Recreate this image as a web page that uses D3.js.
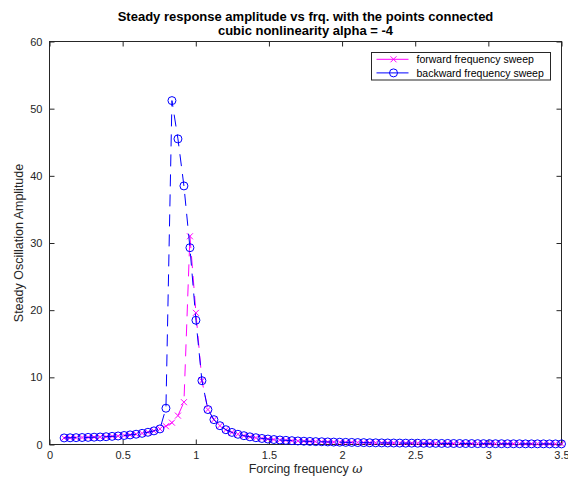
<!DOCTYPE html>
<html>
<head>
<meta charset="utf-8">
<script src="https://cdn.jsdelivr.net/npm/d3@7"></script>
<style>
  html, body { margin: 0; padding: 0; background: #fff; }
  svg { display: block; font-family: "Liberation Sans", Arial, Helvetica, sans-serif; }
</style>
</head>
<body>
<svg id="chart" width="568" height="477"></svg>
<script>
// Forcing frequencies (rad/s) of the sweep grid
const omega = [
  0.100, 0.141, 0.182, 0.223, 0.264, 0.305, 0.346, 0.387, 0.428, 0.469,
  0.510, 0.551, 0.592, 0.633, 0.673, 0.714, 0.755, 0.796, 0.837, 0.878,
  0.919, 0.960, 1.001, 1.042, 1.083, 1.124, 1.165, 1.206, 1.247, 1.288,
  1.329, 1.370, 1.411, 1.452, 1.493, 1.534, 1.575, 1.616, 1.657, 1.698,
  1.739, 1.780, 1.820, 1.861, 1.902, 1.943, 1.984, 2.025, 2.066, 2.107,
  2.148, 2.189, 2.230, 2.271, 2.312, 2.353, 2.394, 2.435, 2.476, 2.517,
  2.558, 2.599, 2.640, 2.681, 2.722, 2.763, 2.804, 2.845, 2.886, 2.927,
  2.967, 3.008, 3.049, 3.090, 3.131, 3.172, 3.213, 3.254, 3.295, 3.336,
  3.377, 3.418, 3.459, 3.500
];

// Steady amplitude, increasing-frequency sweep
const forwardAmp = [
  0.98, 1.00, 1.02, 1.04, 1.06, 1.09, 1.12, 1.16, 1.21, 1.27,
  1.34, 1.43, 1.53, 1.66, 1.82, 2.03, 2.32, 2.72, 3.25, 4.30,
  6.30, 31.0, 19.6, 9.5, 5.2, 3.7, 2.8, 2.2, 1.80, 1.52,
  1.31, 1.14, 1.01, 0.90, 0.81, 0.74, 0.67, 0.62, 0.57, 0.53,
  0.49, 0.46, 0.43, 0.41, 0.38, 0.36, 0.34, 0.32, 0.31, 0.29,
  0.28, 0.26, 0.25, 0.24, 0.23, 0.22, 0.21, 0.20, 0.20, 0.19,
  0.18, 0.17, 0.17, 0.16, 0.16, 0.15, 0.15, 0.14, 0.14, 0.13,
  0.13, 0.12, 0.12, 0.12, 0.11, 0.11, 0.11, 0.10, 0.10, 0.10,
  0.10, 0.09, 0.09, 0.09
];

// Steady amplitude, decreasing-frequency sweep
const backwardAmp = [
  0.98, 1.00, 1.02, 1.04, 1.06, 1.09, 1.12, 1.16, 1.21, 1.27,
  1.34, 1.43, 1.53, 1.66, 1.82, 2.03, 2.32, 5.40, 51.2, 45.5,
  38.5, 29.3, 18.5, 9.5, 5.2, 3.7, 2.8, 2.2, 1.80, 1.52,
  1.31, 1.14, 1.01, 0.90, 0.81, 0.74, 0.67, 0.62, 0.57, 0.53,
  0.49, 0.46, 0.43, 0.41, 0.38, 0.36, 0.34, 0.32, 0.31, 0.29,
  0.28, 0.26, 0.25, 0.24, 0.23, 0.22, 0.21, 0.20, 0.20, 0.19,
  0.18, 0.17, 0.17, 0.16, 0.16, 0.15, 0.15, 0.14, 0.14, 0.13,
  0.13, 0.12, 0.12, 0.12, 0.11, 0.11, 0.11, 0.10, 0.10, 0.10,
  0.10, 0.09, 0.09, 0.09
];

const xTicks = [0, 0.5, 1, 1.5, 2, 2.5, 3, 3.5];
const yTicks = [0, 10, 20, 30, 40, 50, 60];
const seriesNames = ["forward frequency sweep", "backward frequency sweep"];
const seriesColors = ["#ff00ff", "#0000ff"];

const svg = d3.select("#chart");
const margin = { left: 49.5, right: 6.5, top: 41.5, bottom: 32.5 };
const W = 568, H = 477;
const axisColor = "#262626";

const x = d3.scaleLinear().domain([0, 3.5]).range([margin.left, W - margin.right]);
const y = d3.scaleLinear().domain([0, 60]).range([H - margin.bottom, margin.top]);

const x0 = x.range()[0], x1 = x.range()[1];
const y0 = y.range()[0], y1 = y.range()[1];

// Axes with inward ticks, mirrored on top and right
const tickLen = 5;
const xAxisB = d3.axisBottom(x).tickValues(xTicks).tickSizeInner(-tickLen).tickSizeOuter(0)
  .tickPadding(7).tickFormat(d3.format("~g"));
const xAxisT = d3.axisTop(x).tickValues(xTicks).tickSizeInner(-tickLen).tickSizeOuter(0).tickFormat("");
const yAxisL = d3.axisLeft(y).tickValues(yTicks).tickSizeInner(-tickLen).tickSizeOuter(0).tickPadding(7);
const yAxisR = d3.axisRight(y).tickValues(yTicks).tickSizeInner(-tickLen).tickSizeOuter(0).tickFormat("");

function styleAxis(g) {
  g.select(".domain").remove();
  g.selectAll(".tick line").attr("stroke", axisColor).attr("stroke-width", 1);
  g.selectAll(".tick text").attr("fill", axisColor).style("font-size", "11px")
    .style("font-family", "Liberation Sans, Arial, sans-serif");
}

svg.append("g").attr("transform", `translate(0,${y0})`).call(xAxisB).call(styleAxis);
svg.append("g").attr("transform", `translate(0,${y1})`).call(xAxisT).call(styleAxis);
svg.append("g").attr("transform", `translate(${x0},0)`).call(yAxisL).call(styleAxis);
svg.append("g").attr("transform", `translate(${x1},0)`).call(yAxisR).call(styleAxis);

// Box
svg.append("rect")
  .attr("x", x0).attr("y", y1).attr("width", x1 - x0).attr("height", y0 - y1)
  .attr("fill", "none").attr("stroke", axisColor).attr("stroke-width", 1);

// Data series
const plot = svg.append("g");
const line = d3.line().x(d => x(d[0])).y(d => y(d[1]));

const fwd = omega.map((w, i) => [w, forwardAmp[i]]);
const bwd = omega.map((w, i) => [w, backwardAmp[i]]);

function drawCross(g, data, color, s) {
  g.selectAll(null).data(data).enter().append("path")
    .attr("d", d => {
      const cx = x(d[0]), cy = y(d[1]);
      return `M${cx - s},${cy - s}L${cx + s},${cy + s}M${cx - s},${cy + s}L${cx + s},${cy - s}`;
    })
    .attr("stroke", color).attr("stroke-width", 1).attr("fill", "none");
}
function drawCircle(g, data, color, r) {
  g.selectAll(null).data(data).enter().append("circle")
    .attr("cx", d => x(d[0])).attr("cy", d => y(d[1])).attr("r", r)
    .attr("stroke", color).attr("stroke-width", 1).attr("fill", "none");
}

plot.append("path").datum(fwd).attr("d", line)
  .attr("fill", "none").attr("stroke", seriesColors[0]).attr("stroke-width", 1)
  .attr("stroke-dasharray", "12,8");
drawCross(plot.append("g"), fwd, seriesColors[0], 3);

plot.append("path").datum(bwd).attr("d", line)
  .attr("fill", "none").attr("stroke", seriesColors[1]).attr("stroke-width", 1)
  .attr("stroke-dasharray", "12,8");
drawCircle(plot.append("g"), bwd, seriesColors[1], 4);

// Legend
const lg = svg.append("g");
const lgX = 371.5, lgY = 52.5, lgW = 179, lgH = 27.5;
lg.append("rect").attr("x", lgX).attr("y", lgY).attr("width", lgW).attr("height", lgH)
  .attr("fill", "#fff").attr("stroke", axisColor).attr("stroke-width", 1);
seriesNames.forEach((name, i) => {
  const ly = lgY + 6.8 + i * 13.6;
  lg.append("line").attr("x1", lgX + 5).attr("x2", lgX + 37).attr("y1", ly).attr("y2", ly)
    .attr("stroke", seriesColors[i]).attr("stroke-width", 1);
  const mx = lgX + 22;
  if (i === 0) {
    drawCross(lg.append("g"), [[x.invert(mx), y.invert(ly)]], seriesColors[i], 3);
  } else {
    drawCircle(lg.append("g"), [[x.invert(mx), y.invert(ly)]], seriesColors[i], 4);
  }
  lg.append("text").attr("x", lgX + 45).attr("y", ly + 3.7)
    .attr("fill", "#000").style("font-size", "10.5px").text(name);
});

// Title
const title = svg.append("text").attr("text-anchor", "middle")
  .attr("fill", "#000").style("font-weight", "bold").style("font-size", "13px");
title.append("tspan").attr("x", (x0 + x1) / 2).attr("y", 21)
  .text("Steady response amplitude vs frq. with the points connected");
title.append("tspan").attr("x", (x0 + x1) / 2).attr("y", 35)
  .text("cubic nonlinearity alpha = -4");

// Axis labels
const xl = svg.append("text").attr("text-anchor", "middle")
  .attr("x", (x0 + x1) / 2).attr("y", 473).attr("fill", axisColor).style("font-size", "12.5px");
xl.append("tspan").text("Forcing frequency ");
xl.append("tspan").style("font-style", "italic").style("font-family", "DejaVu Serif, serif").text("ω");

svg.append("text").attr("text-anchor", "middle")
  .attr("transform", `translate(23,${(y0 + y1) / 2}) rotate(-90)`)
  .attr("fill", axisColor).style("font-size", "12.5px")
  .text("Steady Oscillation Amplitude");
</script>
</body>
</html>
